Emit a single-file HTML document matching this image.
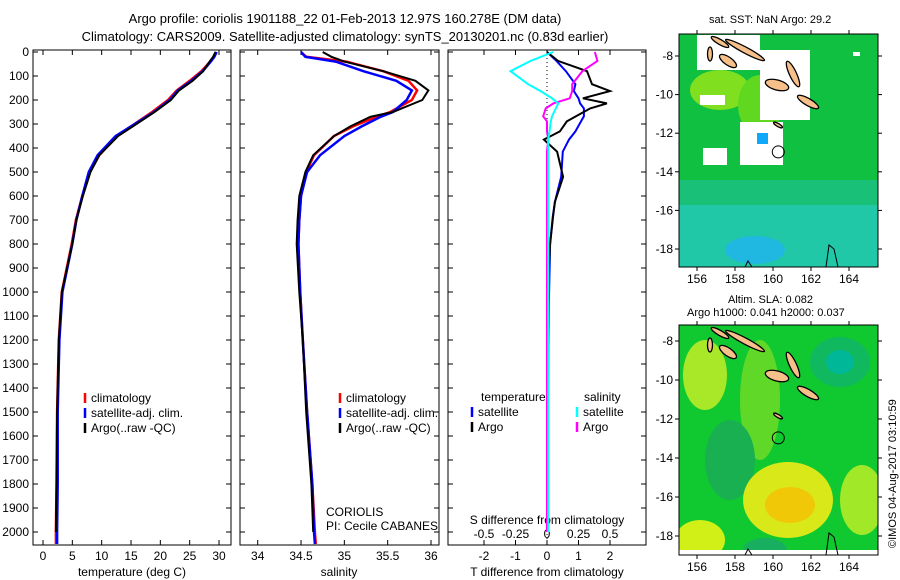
<!DOCTYPE html>
<html><head><meta charset="utf-8"><style>
body{margin:0;background:#fff;}
svg{display:block;font-family:"Liberation Sans",sans-serif;}
text{font-size:12px;fill:#000;}
</style></head><body>
<svg id="fig" width="900" height="580" viewBox="0 0 900 580">
<text x="345" y="23" text-anchor="middle" style="font-size:13px">Argo profile: coriolis 1901188_22 01-Feb-2013 12.97S 160.278E (DM data)</text>
<text x="345" y="41" text-anchor="middle" style="font-size:13px">Climatology: CARS2009. Satellite-adjusted climatology: synTS_20130201.nc (0.83d earlier)</text>
<g id="p1"></g>
<g id="p2"></g>
<g id="p3"></g>
<g id="m1"></g>
<g id="m2"></g>
<text x="709" y="23" style="font-size:11px">sat. SST: NaN Argo: 29.2</text>
<text x="728" y="303" style="font-size:11px">Altim. SLA: 0.082</text>
<text x="687" y="316" style="font-size:11px">Argo h1000: 0.041 h2000: 0.037</text>
<text transform="translate(896,548) rotate(-90)" style="font-size:11px">©IMOS 04-Aug-2017 03:10:59</text>
</svg>
<script>
// ---- data ----
const depths = [0,20,40,80,120,160,200,250,270,310,350,430,500,600,700,800,1000,1200,1500,1800,2000,2050];
const tempArgo = [29.4,29.0,28.4,27.3,25.5,23.2,21.8,19.0,17.8,15.3,12.8,9.6,8.1,6.8,5.7,5.0,3.2,2.7,2.4,2.3,2.2];
const tempClim = [29.5,29.1,28.5,27.0,25.0,22.8,21.3,18.6,17.4,15.0,12.6,9.6,8.0,6.7,5.6,4.9,3.2,2.7,2.4,2.3,2.2,2.2];
const tempSat  = [29.6,29.2,28.6,27.2,25.3,23.0,21.6,18.9,17.6,15.0,12.4,9.3,7.8,6.7,5.7,5.0,3.3,2.8,2.5,2.5,2.4,2.4];
const salArgo = [34.75,34.85,35.0,35.45,35.82,35.97,35.9,35.56,35.3,35.07,34.88,34.64,34.55,34.48,34.46,34.45,34.48,34.52,34.56,34.62,34.64];
const salClim = [34.5,34.56,35.02,35.45,35.74,35.84,35.78,35.53,35.37,35.1,34.88,34.65,34.56,34.5,34.48,34.47,34.49,34.52,34.57,34.63,34.66,34.67];
const salSat  = [34.5,34.55,34.9,35.22,35.6,35.78,35.72,35.56,35.42,35.2,35.0,34.72,34.57,34.5,34.48,34.47,34.49,34.52,34.57,34.63,34.65,34.66];
const diffDepths = [0,37,80,134,163,193,214,235,268,289,331,365,415,520,625,688,800,1045,1500,2000];
const tDiffArgo = [0,0.35,1.27,1.43,2.0,1.14,1.9,1.37,0.92,0.63,0.41,-0.1,0.32,0.51,0.25,0.19,0.1,0,0,0];
const tDiffSat  = [0,0.3,0.6,0.9,0.85,1.0,1.05,1.17,1.17,1.08,0.9,0.7,0.5,0.45,0.25,0.18,0.1,0.06,0.03,0.02];
const sDiffArgo = [0.38,0.4,0.28,0.2,0.2,0.18,0.05,-0.01,-0.03,0,0,0.01,0,0,0,0,0,0,0,0];
const sDiffSat  = [0.05,-0.13,-0.29,-0.15,-0.05,0.04,0.09,0.07,0.04,0.03,0.02,0.01,0.01,0.01,0.01,0.01,0.01,0.01,0.01,0.01];
const depthTicks = [0,100,200,300,400,500,600,700,800,900,1000,1100,1200,1300,1400,1500,1600,1700,1800,1900,2000];
const tempTicks = [0,5,10,15,20,25,30];
const salTicks = [34,34.5,35,35.5,36];
const tDiffTicks = [-2,-1,0,1,2];
const sDiffTicks = ['-0.5','-0.25','0','0.25','0.5'];
const latTicks = [-8,-10,-12,-14,-16,-18];
const lonTicks = [156,158,160,162,164];

const NS="http://www.w3.org/2000/svg";
function mk(p,t,a){const e=document.createElementNS(NS,t);for(const k in a)e.setAttribute(k,a[k]);p.appendChild(e);return e;}
const yD = d => 52 + d*0.24;
const TOPY=50,BOTY=545;

function drawFrame(g,x0,x1,name){
  const r=mk(g,'rect',{x:x0,y:TOPY,width:x1-x0,height:BOTY-TOPY,fill:'none',stroke:'#000','stroke-width':1});
  
  
  depthTicks.forEach(d=>{
    mk(g,'line',{x1:x0,x2:x0+5,y1:yD(d),y2:yD(d),stroke:'#000'});
    mk(g,'line',{x1:x1,x2:x1-5,y1:yD(d),y2:yD(d),stroke:'#000'});
  });
}
function xTicks(g,vals,labels,fx,ty){
  vals.forEach((v,i)=>{const x=fx(v);
    mk(g,'line',{x1:x,x2:x,y1:BOTY,y2:BOTY-5,stroke:'#000'});
    mk(g,'line',{x1:x,x2:x,y1:TOPY,y2:TOPY+5,stroke:'#000'});
    const t=mk(g,'text',{x:x,y:ty,'text-anchor':'middle'});t.textContent=labels[i];
    
    
  });
}
function drawLine(g,xs,ds,fx,col,w,name){
  const pts=xs.map((v,i)=>fx(v).toFixed(1)+','+yD(ds[i]).toFixed(1)).join(' ');
  const p=mk(g,'polyline',{points:pts,fill:'none',stroke:col,'stroke-width':w});
  
  
}
function drawLegend(g,x,y,items){
  items.forEach((it,i)=>{
    mk(g,'line',{x1:x,x2:x,y1:y+i*15-9,y2:y+i*15+1,stroke:it[1],'stroke-width':2.5});
    const t=mk(g,'text',{x:x+6,y:y+i*15});t.textContent=it[0];
    
    
  });
}
// panel 1
const p1=document.getElementById('p1');
const fT=v=>43+v*(219-43)/30;
drawFrame(p1,33,231,'temperature');
depthTicks.forEach(d=>{const t=mk(p1,'text',{x:29,y:yD(d)+4,'text-anchor':'end'});t.textContent=d;
  
  });
xTicks(p1,tempTicks,tempTicks,fT,560);
const xl1=mk(p1,'text',{x:132,y:576,'text-anchor':'middle'});xl1.textContent='temperature (deg C)';


drawLine(p1,tempClim,depths,fT,'#f00',2.5,'temp-climatology-line');
drawLine(p1,tempSat,depths,fT,'#00f',2.5,'temp-satellite-line');
drawLine(p1,tempArgo,depths,fT,'#000',2,'temp-argo-line');
drawLegend(p1,85,402,[['climatology','#f00'],['satellite-adj. clim.','#00f'],['Argo(..raw -QC)','#000']]);
// panel 2
const p2=document.getElementById('p2');
const fS=v=>257.7+(v-34)*(431-257.7)/2;
drawFrame(p2,240,439,'salinity');
xTicks(p2,salTicks,salTicks,fS,560);
const xl2=mk(p2,'text',{x:339,y:576,'text-anchor':'middle'});xl2.textContent='salinity';


drawLine(p2,salClim,depths,fS,'#f00',2.5,'sal-climatology-line');
drawLine(p2,salSat,depths,fS,'#00f',2.5,'sal-satellite-line');
drawLine(p2,salArgo,depths,fS,'#000',2,'sal-argo-line');
drawLegend(p2,340,402,[['climatology','#f00'],['satellite-adj. clim.','#00f'],['Argo(..raw -QC)','#000']]);
const c1=mk(p2,'text',{x:326,y:516});c1.textContent='CORIOLIS';


const c2=mk(p2,'text',{x:326,y:530});c2.textContent='PI: Cecile CABANES';


// panel 3
const p3=document.getElementById('p3');
const fTD=v=>547+v*31.5, fSD=v=>547+v*126;
drawFrame(p3,448,646,'difference');
xTicks(p3,tDiffTicks,tDiffTicks,fTD,560);
sDiffTicks.forEach(s=>{const x=fSD(parseFloat(s));const t=mk(p3,'text',{x:x,y:538,'text-anchor':'middle'});t.textContent=s;
  
  });
const xl3=mk(p3,'text',{x:547,y:576,'text-anchor':'middle'});xl3.textContent='T difference from climatology';


const xl3b=mk(p3,'text',{x:547,y:524,'text-anchor':'middle'});xl3b.textContent='S difference from climatology';


mk(p3,'line',{x1:547,x2:547,y1:TOPY,y2:BOTY,stroke:'#000','stroke-dasharray':'1,3'});
drawLine(p3,tDiffSat,diffDepths,fTD,'#00f',2,'t-diff-satellite-line');
drawLine(p3,tDiffArgo,diffDepths,fTD,'#000',2,'t-diff-argo-line');
drawLine(p3,sDiffArgo,diffDepths,fSD,'#f0f',2,'s-diff-argo-line');
drawLine(p3,sDiffSat,diffDepths,fSD,'#0ff',2,'s-diff-satellite-line');
const lt=mk(p3,'text',{x:481,y:401});lt.textContent='temperature';


const ls=mk(p3,'text',{x:584,y:401});ls.textContent='salinity';


drawLegend(p3,472,416,[['satellite','#00f'],['Argo','#000']]);
drawLegend(p3,577,416,[['satellite','#0ff'],['Argo','#f0f']]);
// maps
function drawMap(id,y0,y1,latY,base,blobs,name){
  const g=document.getElementById(id);const x0=679,x1=878;
  const fLon=v=>697+(v-156)*19, fLat=v=>latY+(-8-v)*(y1===267?19.3:19.5);
  const cid='clip'+id;
  const cp=mk(g,'clipPath',{id:cid});mk(cp,'rect',{x:x0,y:y0,width:x1-x0,height:y1-y0});
  const cg=mk(g,'g',{'clip-path':'url(#'+cid+')'});
  mk(cg,'rect',{x:x0,y:y0,width:x1-x0,height:y1-y0,fill:base});
  blobs.forEach(b=>{mk(cg,b[0],b[1]);});
  [[720,42,10,2.5,30],[745,50,22,3,28],[710,54,2.5,7,0],[728,61,10,4,35],[777,85,12,5,15],[793,74,3.5,14,-25],[808,102,12,3.5,30],[778,125,5,1.5,30]].forEach(s=>{
    const cy=s[1]-34+y0;
    const e=mk(cg,'ellipse',{cx:s[0],cy:cy,rx:s[2],ry:s[3],fill:'#f7c08a',stroke:'#000','stroke-width':1.3,transform:`rotate(${s[4]} ${s[0]} ${cy})`});
    
    
  });
  mk(cg,'path',{d:`M826 ${y1} L829 ${y1-22} L834 ${y1-18} L838 ${y1}`,fill:'none',stroke:'#000'});
  mk(cg,'path',{d:`M745 ${y1} L748 ${y1-6} L752 ${y1}`,fill:'none',stroke:'#000'});
  const fr=mk(g,'rect',{x:x0,y:y0,width:x1-x0,height:y1-y0,fill:'none',stroke:'#000'});
  
  
  const ac=mk(g,'circle',{cx:fLon(160.278),cy:fLat(-12.97),r:6,fill:'none',stroke:'#000'});
  
  
  latTicks.forEach(v=>{const y=fLat(v);
    mk(g,'line',{x1:x0,x2:x0-4,y1:y,y2:y,stroke:'#000'});mk(g,'line',{x1:x1,x2:x1+4,y1:y,y2:y,stroke:'#000'});
    const t=mk(g,'text',{x:673,y:y+4,'text-anchor':'end'});t.textContent=v;
    
    });
  lonTicks.forEach(v=>{const x=fLon(v);
    mk(g,'line',{x1:x,x2:x,y1:y1,y2:y1+4,stroke:'#000'});mk(g,'line',{x1:x,x2:x,y1:y0,y2:y0-4,stroke:'#000'});
    const t=mk(g,'text',{x:x,y:y1+16,'text-anchor':'middle'});t.textContent=v;
    
    });
}
drawMap('m1',34,267,56,'#10c040',[
 ['rect',{x:679,y:180,width:199,height:87,fill:'#18c078'}],
 ['rect',{x:679,y:205,width:199,height:62,fill:'#20c8a8'}],
 ['ellipse',{cx:755,cy:250,rx:30,ry:14,fill:'#20b8e0'}],
 ['ellipse',{cx:720,cy:90,rx:30,ry:20,fill:'#80e020'}],
 ['ellipse',{cx:760,cy:105,rx:22,ry:30,fill:'#60d820'}],
 ['rect',{x:697,y:35,width:63,height:35,fill:'#fff'}],
 ['rect',{x:760,y:50,width:50,height:70,fill:'#fff'}],
 ['rect',{x:740,y:122,width:43,height:43,fill:'#fff'}],
 ['rect',{x:703,y:148,width:24,height:17,fill:'#fff'}],
 ['rect',{x:700,y:95,width:25,height:10,fill:'#fff'}],
 ['rect',{x:853,y:52,width:7,height:4,fill:'#fff'}],
 ['rect',{x:757,y:133,width:11,height:11,fill:'#10a8f8'}]
],'sst-map');
drawMap('m2',325,555,341,'#10c830',[
 ['ellipse',{cx:705,cy:375,rx:22,ry:35,fill:'#a8e828'}],
 ['ellipse',{cx:760,cy:400,rx:20,ry:60,fill:'#60d828'}],
 ['ellipse',{cx:840,cy:362,rx:30,ry:25,fill:'#10b860'}],
 ['ellipse',{cx:840,cy:362,rx:14,ry:12,fill:'#00b898'}],
 ['ellipse',{cx:730,cy:460,rx:25,ry:40,fill:'#18b050'}],
 ['ellipse',{cx:788,cy:500,rx:45,ry:38,fill:'#d8e818'}],
 ['ellipse',{cx:790,cy:505,rx:25,ry:18,fill:'#f0c808'}],
 ['ellipse',{cx:700,cy:540,rx:25,ry:20,fill:'#d0f018'}],
 ['ellipse',{cx:862,cy:500,rx:22,ry:35,fill:'#a0e828'}],
 ['ellipse',{cx:765,cy:550,rx:22,ry:12,fill:'#18b060'}],
 ['rect',{x:679,y:550,width:199,height:5,fill:'#fff'}]
],'sla-map');
</script>
</body></html>
